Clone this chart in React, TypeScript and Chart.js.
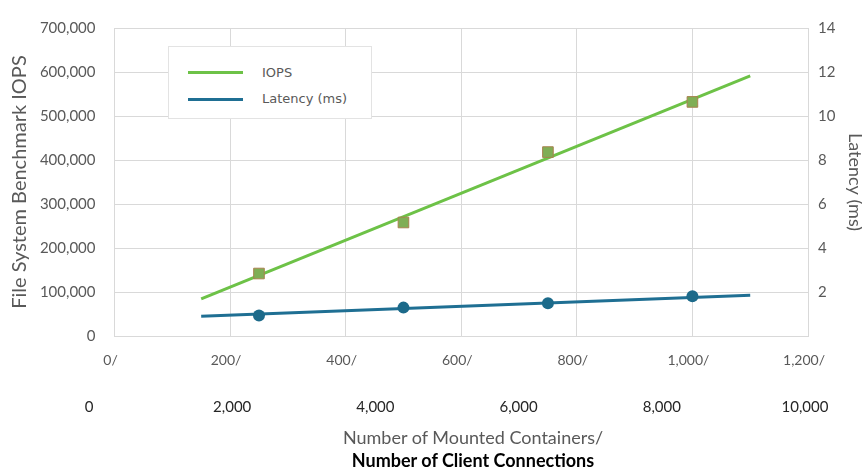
import React, { useEffect, useRef } from "react";
import { Chart, registerables } from "chart.js";

Chart.register(...registerables);

// Measured points (x = number of mounted containers)
const containers = [250, 500, 750, 1000];
const iopsValues = [142000, 258000, 418000, 532000];
const latencyValues = [0.93, 1.29, 1.49, 1.81];

// Trend lines (start / end in containers)
const trendContainers = [150, 1100];
const iopsTrend = [84500, 591000];
const latencyTrend = [0.9, 1.85];

// Axis ranges / ticks
const containerRange = [0, 1200];
const containerStep = 200;
const connectionTicks = [0, 2000, 4000, 6000, 8000, 10000];
const connectionRange = [356, 10042];
const iopsRange = [0, 700000];
const iopsStep = 100000;
const latencyRange = [0, 14];
const latencyStep = 2;

const GREEN = "#6dc247";
const BLUE = "#1f6f93";
const GRID = "#d9d9d9";
const TICK = "#595959";

export default function App() {
  const ref = useRef<HTMLCanvasElement>(null);

  useEffect(() => {
    const chart = new Chart(ref.current!, {
      type: "scatter",
      data: {
        datasets: [
          {
            label: "IOPS points",
            data: containers.map((x, i) => ({ x, y: iopsValues[i] })),
            xAxisID: "x",
            yAxisID: "y",
            pointStyle: "rect",
            pointRadius: 7.5,
            backgroundColor: "#7fae55",
            borderColor: "#a8824e",
            borderWidth: 1,
            showLine: false,
          },
          {
            label: "Latency points",
            data: containers.map((x, i) => ({ x, y: latencyValues[i] })),
            xAxisID: "x",
            yAxisID: "y1",
            pointStyle: "circle",
            pointRadius: 6,
            backgroundColor: "#1c6a8a",
            borderColor: "#1c6a8a",
            borderWidth: 0,
            showLine: false,
          },
          {
            label: "IOPS",
            data: trendContainers.map((x, i) => ({ x, y: iopsTrend[i] })),
            xAxisID: "x",
            yAxisID: "y",
            showLine: true,
            borderColor: GREEN,
            borderWidth: 3,
            pointRadius: 0,
          },
          {
            label: "Latency (ms)",
            data: trendContainers.map((x, i) => ({ x, y: latencyTrend[i] })),
            xAxisID: "x",
            yAxisID: "y1",
            showLine: true,
            borderColor: BLUE,
            borderWidth: 3,
            pointRadius: 0,
          },
        ],
      },
      options: {
        responsive: false,
        animation: false,
        layout: { padding: { top: 18, left: 0, right: 0, bottom: 45 } },
        plugins: { legend: { display: false }, tooltip: { enabled: false } },
        scales: {
          x: {
            type: "linear",
            position: "bottom",
            min: containerRange[0],
            max: containerRange[1],
            grid: { color: GRID, drawTicks: false },
            border: { color: GRID },
            ticks: {
              stepSize: containerStep,
              padding: 16,
              labelOffset: -4,
              color: TICK,
              font: { family: "Lato", size: 14 },
              callback: (v: any) => Number(v).toLocaleString("en-US") + "/",
            },
            afterFit: (s: any) => {
              s.height = 50;
            },
          },
          x2: {
            type: "linear",
            position: "bottom",
            min: connectionRange[0],
            max: connectionRange[1],
            bounds: "data",
            grid: { display: false, drawTicks: false },
            border: { display: false },
            afterBuildTicks: (s: any) => {
              s.ticks = connectionTicks.map((value) => ({ value }));
            },
            ticks: {
              autoSkip: false,
              padding: 12,
              color: "#262626",
              font: { family: "Lato", size: 15 },
              callback: (v: any) => Number(v).toLocaleString("en-US"),
            },
            afterFit: (s: any) => {
              s.height = 40;
            },
          },
          y: {
            type: "linear",
            position: "left",
            min: iopsRange[0],
            max: iopsRange[1],
            grid: { color: GRID, drawTicks: false },
            border: { color: GRID },
            ticks: {
              stepSize: iopsStep,
              padding: 19,
              color: TICK,
              font: { family: "Lato", size: 15 },
              callback: (v: any) => Number(v).toLocaleString("en-US"),
            },
            title: {
              display: true,
              text: "File System Benchmark IOPS",
              color: TICK,
              font: { family: "Lato", size: 20 },
              padding: { top: 8, bottom: 0 },
            },
            afterFit: (s: any) => {
              s.width = 114.5;
            },
          },
          y1: {
            type: "linear",
            position: "right",
            min: latencyRange[0],
            max: latencyRange[1],
            grid: { drawOnChartArea: false, drawTicks: false },
            border: { color: GRID },
            ticks: {
              stepSize: latencyStep,
              padding: 10,
              color: TICK,
              font: { family: "Lato", size: 15 },
              callback: (v: any) => (Number(v) === 0 ? "" : String(v)),
            },
            title: {
              display: true,
              text: "Latency (ms)",
              color: TICK,
              font: { family: "Lato", size: 18, lineHeight: 0.8 },
              padding: { top: 0, bottom: 0 },
            },
            afterFit: (s: any) => {
              s.width = 54;
            },
          },
        },
      },
    });
    return () => chart.destroy();
  }, []);

  return (
    <div
      style={{
        position: "fixed",
        left: 0,
        top: 0,
        width: 862,
        height: 471,
        background: "#fff",
        overflow: "hidden",
      }}
    >
      <canvas ref={ref} width={862} height={471} style={{ position: "absolute", left: 0, top: 0 }} />
      <div
        style={{
          position: "absolute",
          left: 168,
          top: 46,
          width: 202,
          height: 71,
          background: "#fff",
          border: "1px solid #e3e3e3",
          fontFamily: "'DejaVu Sans', sans-serif",
          fontSize: 13,
          color: TICK,
        }}
      >
        <div style={{ position: "absolute", left: 19, top: 24, width: 55, height: 3, background: GREEN }} />
        <div style={{ position: "absolute", left: 93, top: 17, lineHeight: "18px" }}>IOPS</div>
        <div style={{ position: "absolute", left: 19, top: 51, width: 55, height: 3, background: BLUE }} />
        <div style={{ position: "absolute", left: 93, top: 43, lineHeight: "18px" }}>Latency (ms)</div>
      </div>
      <div
        style={{
          position: "absolute",
          left: 473,
          top: 425,
          transform: "translateX(-50%)",
          whiteSpace: "nowrap",
          fontFamily: "Lato, sans-serif",
          fontSize: 18,
          lineHeight: "24px",
          color: TICK,
        }}
      >
        Number of Mounted Containers/
      </div>
      <div
        style={{
          position: "absolute",
          left: 473,
          top: 449,
          transform: "translateX(-50%)",
          whiteSpace: "nowrap",
          fontFamily: "Lato, sans-serif",
          fontSize: 18,
          fontWeight: 700,
          lineHeight: "22px",
          color: "#000",
        }}
      >
        Number of Client Connections
      </div>
    </div>
  );
}
